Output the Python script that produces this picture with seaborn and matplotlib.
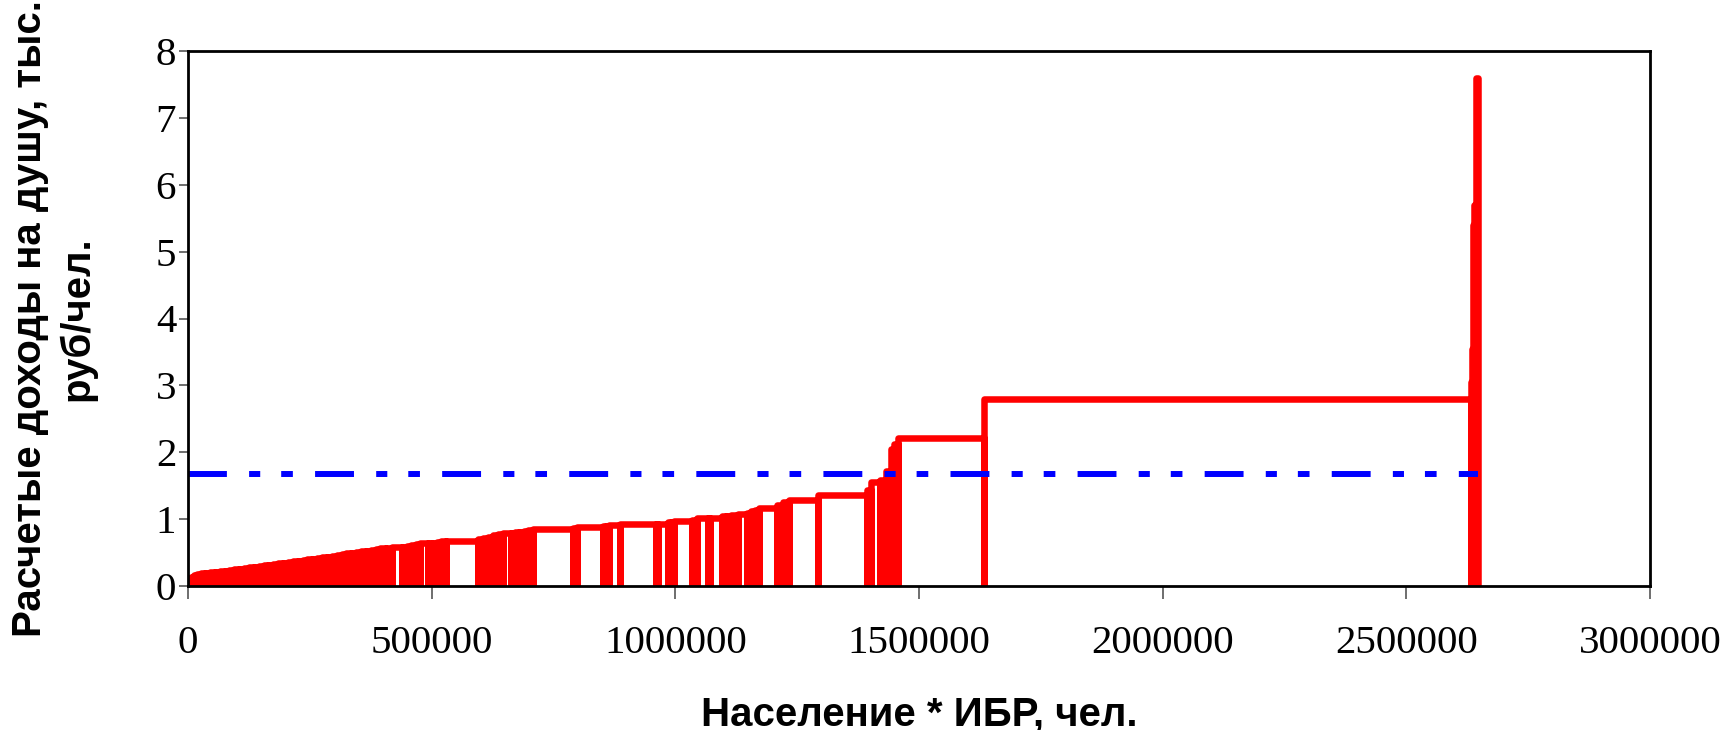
import numpy as np
import seaborn as sns
import matplotlib
matplotlib.use("Agg")
from matplotlib import pyplot as plt

# ширина каждого региона (население * ИБР, тыс. чел.) и расчетный доход (тыс. руб/чел.)
pop_ibr = [3, 4, 5, 6, 8, 9, 10, 10, 10, 10, 10, 10, 10, 10, 10, 10, 10, 10, 10, 10,
           10, 10, 10, 10, 10, 10, 10, 10, 10, 10, 10, 10, 10, 10, 10, 10, 10, 10, 10, 10,
           10, 10, 11.3, 11.3,
           22.5, 9, 9, 9, 9, 15.4, 9.5, 9.5, 9.5, 9, 67, 10, 10, 10, 10, 11, 15,
           9, 9, 9, 9, 9, 84, 8, 53, 6, 6, 23, 73, 3.5, 21.5, 6.5, 6.5, 36, 10, 23.5,
           4.1, 23.8, 9.3, 9.3, 13.6, 19.1, 8.4, 8.4, 8.5, 36, 12, 13.7, 58.1, 100.6,
           9.2, 18.4, 12, 10.7, 6.3, 8.7, 174.8, 1000,
           1.5, 1.5, 2, 1.5, 3, 5]
dohod = [0.07, 0.10, 0.13, 0.16, 0.18, 0.19, 0.20, 0.205, 0.21, 0.22, 0.23, 0.235, 0.25,
         0.255, 0.27, 0.28, 0.29, 0.295, 0.31, 0.32, 0.33, 0.34, 0.35, 0.36, 0.37, 0.38,
         0.385, 0.40, 0.41, 0.42, 0.43, 0.44, 0.45, 0.46, 0.475, 0.49, 0.50, 0.51, 0.52,
         0.53, 0.545, 0.555, 0.565, 0.57,
         0.58, 0.59, 0.60, 0.61, 0.63, 0.64, 0.645, 0.65, 0.66, 0.67, 0.675, 0.70, 0.72,
         0.74, 0.76, 0.78, 0.79, 0.80, 0.805, 0.81, 0.82, 0.83, 0.845, 0.86, 0.887, 0.895,
         0.90, 0.91, 0.92, 0.93, 0.934, 0.95, 0.96, 0.97, 0.99, 1.01, 1.015, 1.02, 1.04,
         1.05, 1.06, 1.07, 1.09, 1.12, 1.14, 1.16, 1.21, 1.25, 1.29, 1.365,
         1.43, 1.55, 1.58, 1.72, 2.05, 2.12, 2.22, 2.80,
         3.05, 3.3, 3.55, 5.4, 5.7, 7.6]
sredniy = 1.68

xticks = [0, 500000, 1000000, 1500000, 2000000, 2500000, 3000000]
yticks = [0, 1, 2, 3, 4, 5, 6, 7, 8]

# контур: каждый регион - прямоугольник от нуля до дохода
edges = np.concatenate([[0], np.cumsum(pop_ibr)]) * 1000
px, py = [], []
for i, v in enumerate(dohod):
    px += [edges[i], edges[i], edges[i + 1], edges[i + 1]]
    py += [0, v, v, 0]

sns.set_style("ticks")
plt.rcParams["font.family"] = ["Liberation Serif", "DejaVu Serif"]
plt.rcParams["lines.scale_dashes"] = False

fig = plt.figure(figsize=(17.25, 7.3), dpi=100)
ax = fig.add_axes([188 / 1725, 1 - 586 / 730, (1650 - 188) / 1725, (586 - 51) / 730])

sns.lineplot(x=px, y=py, sort=False, estimator=None, color="#ff0000", ax=ax)
ax.lines[-1].set_linewidth(4.7)
sns.lineplot(x=[0, edges[-1]], y=[sredniy, sredniy], color="#0000ff",
             linestyle=(0, (28, 16, 8, 15.1, 8.4, 16)), ax=ax)
ax.lines[-1].set_linewidth(4.3)

ax.set_xlim(0, 3000000)
ax.set_ylim(0, 8)
ax.set_xticks(xticks)
ax.set_xticklabels([str(t) for t in xticks])
ax.set_yticks(yticks)
ax.set_yticklabels([str(t) for t in yticks])
ax.tick_params(direction="out", width=1.2, color="#555555",
               labelsize=29.5, labelcolor="black")
ax.tick_params(axis="x", length=9, pad=19)
ax.tick_params(axis="y", length=6.5, pad=2)
for s in ax.spines.values():
    s.set_visible(True)
    s.set_linewidth(2)
    s.set_color("black")

lab = dict(family=["Liberation Sans", "DejaVu Sans"], weight="bold", size=29,
           color="black")
ax.set_xlabel("Население * ИБР, чел.", labelpad=24, **lab)
ax.set_ylabel("Расчетые доходы на душу, тыс.\nруб/чел.", labelpad=43,
              linespacing=1.3, **lab)

plt.savefig("out.png", dpi=100)
